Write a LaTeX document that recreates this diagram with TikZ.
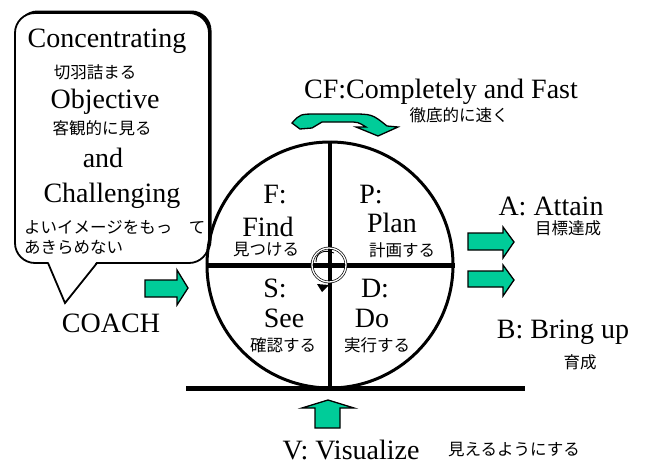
\documentclass[tikz,border=0pt]{standalone}
\usepackage{fontspec}
\setmainfont{LiberationSerif}[Extension=.ttf, UprightFont=*-Regular, BoldFont=*-Bold]
\newfontfamily\jp{Noto Sans CJK JP}
\definecolor{gteal}{RGB}{0,204,153}
\tikzset{
  en/.style={font=\rmfamily\fontsize{28}{30}\selectfont, inner sep=0pt, anchor=base},
  ja/.style={font=\jp\fontsize{16.5}{18}\selectfont, inner sep=0pt},
  blockarrow/.style={fill=gteal, draw=black, line width=1.3pt, line join=miter},
}
\begin{document}
\begin{tikzpicture}[x=1pt,y=-1pt]
\useasboundingbox (0,0) rectangle (646,464);
% speech bubble
\fill[black, rounded corners=20] (17.5,10.5) rectangle (211.5,260.5);
\draw[fill=white, line width=1.8pt, rounded corners=20] (15,13) rectangle (209,263);
\fill[white] (48,261) -- (97,261) -- (65,303) -- cycle;
\draw[line width=1.8pt, line join=miter] (48,263) -- (65,303) -- (97,263);
\node[en] (conc) at (107,47) {Concentrating};
\node[ja] (kiri) at (95,72) {切羽詰まる};
\node[en] (obj) at (105,108) {Objective};
\node[ja] (kyak) at (102,128) {客観的に見る};
\node[en] (and) at (103,167) {and};
\node[en] (chal) at (112,202) {Challenging};
\node[ja, anchor=west] (yoi) at (24,227) {よいイメージをもっ\hspace{1em}て};
\node[ja, anchor=west] (akira) at (24,247) {あきらめない};
\node[en] (coach) at (111,332) {COACH};
% main circle
\node[circle, draw, line width=3pt, minimum size=246pt, inner sep=0pt] (c) at (330,265) {};
\draw[line width=5pt] (c.west) -- (c.east);
\draw[line width=4pt] (c.north) -- (c.south);
\coordinate (bl) at (186,388);
\coordinate (br) at (525,388);
\draw[line width=5pt] (bl) -- (br);
% quadrant texts
\node[en] (f1) at (275,203) {F:};
\node[en] (f2) at (268,236) {Find};
\node[ja] (f3) at (266,250) {見つける};
\node[en] (p1) at (371,203) {P:};
\node[en] (p2) at (392,232) {Plan};
\node[ja] (p3) at (402,250) {計画する};
\node[en] (s1) at (275,297) {S:};
\node[en] (s2) at (284,327) {See};
\node[ja] (s3) at (283,345) {確認する};
\node[en] (d1) at (375,297) {D:};
\node[en] (d2) at (372,327) {Do};
\node[ja] (d3) at (377,345) {実行する};
% small cycle arrow
\draw[double=white, line width=0.7pt, double distance=1.3pt] (329,265) circle (17);
\draw[line width=0.9pt] (316,262) .. controls (316,252) and (325,249) .. (334,253);
\fill[black] (317,284) -- (329,285) -- (322,292) -- cycle;
% CF
\node[en] (cf) at (441,98) {CF:Completely and Fast};
\node[ja] (cfj) at (459,115) {徹底的に速く};
\draw[blockarrow] (292,123) .. controls (300,114) .. (318,114) -- (350,114) .. controls (372,114) .. (387,126) -- (398,127) -- (378,136) -- (356,127) -- (366,127) .. controls (358,122) .. (348,122) -- (322,122) -- (312,128) -- (300,129) -- cycle;
% left arrow
\draw[blockarrow] (145,280) -- (177,280) -- (177,270) -- (188,288) -- (177,305) -- (177,297) -- (145,297) -- cycle;
% right arrows
\draw[blockarrow] (468,233) -- (503,233) -- (503,227) -- (514,242) -- (503,258) -- (503,250) -- (468,250) -- cycle;
\draw[blockarrow] (468,271) -- (503,271) -- (503,265) -- (514,280) -- (503,296) -- (503,287) -- (468,287) -- cycle;
\node[en] (a1) at (551,215) {A: Attain};
\node[ja] (a2) at (568,228) {目標達成};
\node[en] (b1) at (563,338) {B: Bring up};
\node[ja] (b2) at (580,362) {育成};
% up arrow
\draw[blockarrow] (315,428) -- (315,408) -- (302,408) -- (328,400) -- (354,408) -- (340,408) -- (340,428) -- cycle;
\node[en] (v1) at (351,459) {V: Visualize};
\node[ja] (v2) at (514,450) {見えるようにする};
\end{tikzpicture}
\end{document}
